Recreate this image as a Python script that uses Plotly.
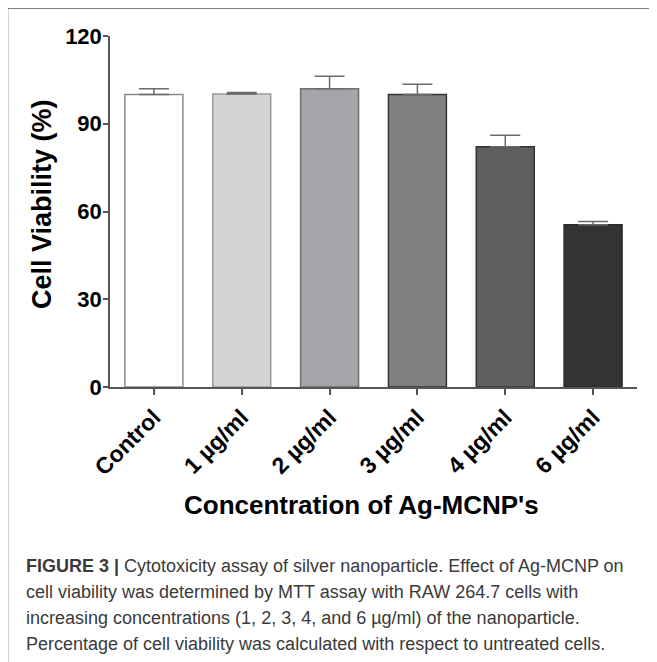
import plotly.graph_objects as go

categories = ["Control", "1 µg/ml", "2 µg/ml", "3 µg/ml", "4 µg/ml", "6 µg/ml"]
viability = [100.0, 100.2, 102.0, 100.0, 82.1, 55.5]
error_up = [2.0, 0.5, 4.2, 3.5, 4.0, 1.1]
fill_colors = ["#ffffff", "#d4d4d4", "#a4a4a9", "#808080", "#5f5f5f", "#333333"]
edge_colors = ["#8a8a8a", "#9a9a9a", "#707070", "#333333", "#333333", "#2a2a2a"]
y_ticks = [0, 30, 60, 90, 120]

caption_lines = [
    "<b>FIGURE 3 |</b> Cytotoxicity assay of silver nanoparticle. Effect of Ag-MCNP on",
    "cell viability was determined by MTT assay with RAW 264.7 cells with",
    "increasing concentrations (1, 2, 3, 4, and 6 µg/ml) of the nanoparticle.",
    "Percentage of cell viability was calculated with respect to untreated cells.",
]

# page body adds an 8px margin; work in page pixels and shift
OFF = 8
W, H = 657 - OFF, 662 - OFF
L, R, T, B = 110 - OFF, 637 - OFF, 36 - OFF, 387 - OFF


def px(x):
    return (x - OFF - L) / (R - L)


def py(y):
    return (B - (y - OFF)) / (B - T)


FONT = "Liberation Sans, Arial, sans-serif"

fig = go.Figure()
fig.add_trace(go.Bar(
    x=categories,
    y=viability,
    width=0.66,
    marker=dict(color=fill_colors, line=dict(color=edge_colors, width=1.5)),
    error_y=dict(type="data", symmetric=False, array=error_up,
                 arrayminus=[0] * len(error_up),
                 color="#6a6a6a", thickness=1.5, width=15),
))

fig.update_layout(
    width=W, height=H,
    margin=dict(l=L, r=W - R, t=T, b=H - B),
    paper_bgcolor="white", plot_bgcolor="white",
    showlegend=False,
    font=dict(family=FONT, color="#000"),
    xaxis=dict(
        range=[-0.5, 5.5], showline=True, linecolor="#555", linewidth=1.5,
        ticks="outside", ticklen=6, tickwidth=1.5, tickcolor="#555",
        tickangle=-45, tickfont=dict(size=23, family=FONT, weight="bold"),
        showgrid=False, zeroline=False,
    ),
    yaxis=dict(
        range=[0, 120], tickvals=y_ticks, showline=True, linecolor="#555",
        linewidth=1.5, ticks="outside", ticklen=5, tickwidth=1.5,
        tickcolor="#555", tickfont=dict(size=22, family=FONT, weight="bold"),
        showgrid=False, zeroline=False, ticklabelstandoff=-3,
    ),
)

annotations = [
    dict(text="<b>Concentration of Ag-MCNP's</b>", x=px(361), y=py(505),
         xref="paper", yref="paper", showarrow=False, xanchor="center",
         yanchor="middle", font=dict(size=26, family=FONT, color="#000")),
    dict(text="<b>Cell Viability (%)</b>", x=px(42), y=py(204),
         xref="paper", yref="paper", showarrow=False, xanchor="center",
         yanchor="middle", textangle=-90,
         font=dict(size=27, family=FONT, color="#000")),
]
line_y = [566, 592, 618, 644]
for txt, yy in zip(caption_lines, line_y):
    annotations.append(dict(
        text=txt, x=px(24), y=py(yy), xref="paper", yref="paper",
        showarrow=False, xanchor="left", yanchor="middle", align="left",
        font=dict(size=18, family=FONT, color="#3a3a3a")))
fig.update_layout(annotations=annotations)

fig.add_shape(type="line", xref="paper", yref="paper",
              x0=px(7.5), x1=px(670), y0=py(8), y1=py(8),
              line=dict(color="#555", width=1.5))
fig.add_shape(type="line", xref="paper", yref="paper",
              x0=px(7.5), x1=px(7.5), y0=py(8), y1=py(680),
              line=dict(color="#555", width=1.5))

fig.write_html("out.html")
